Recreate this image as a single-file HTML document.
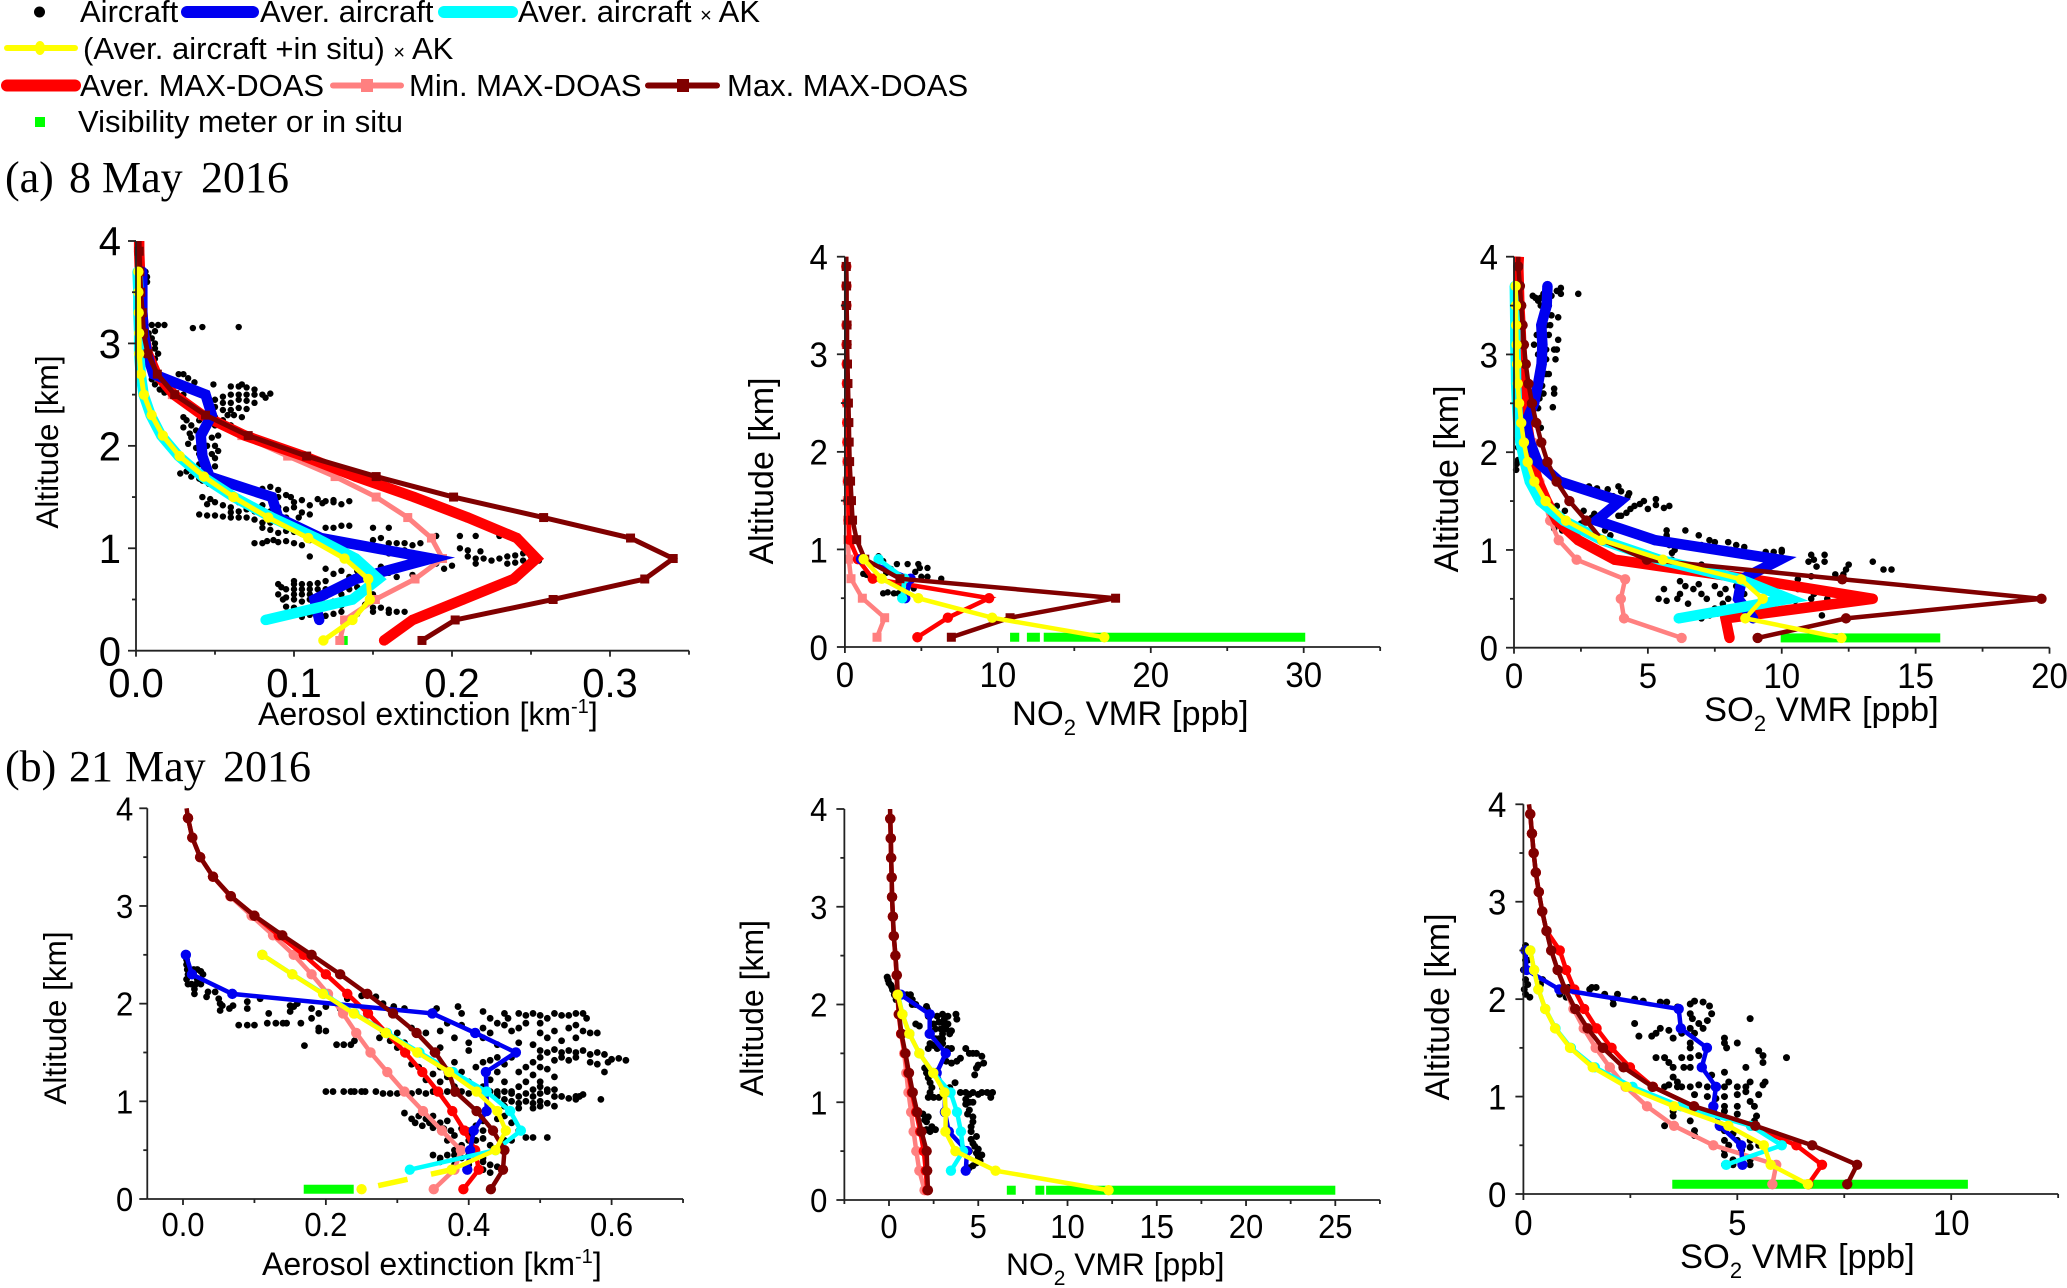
<!DOCTYPE html>
<html lang="en">
<head>
<meta charset="utf-8">
<title>Vertical profiles of aerosol extinction, NO2 and SO2</title>
<style>
html,body{margin:0;padding:0;background:#fff;width:2067px;height:1288px;overflow:hidden}
svg{display:block}
text{font-family:"Liberation Sans",Arial,sans-serif;fill:#000}
.serif{font-family:"Liberation Serif","Times New Roman",serif}
</style>
</head>
<body>
<svg id="figure" xmlns="http://www.w3.org/2000/svg" width="2067" height="1288" viewBox="0 0 2067 1288">
<rect width="2067" height="1288" fill="#fff"/>
<g id="legend" font-size="31">
  <g>
    <circle cx="39.5" cy="12" r="5.5" fill="#000"/>
    <text x="80" y="22">Aircraft</text>
  </g>
  <g>
    <line x1="187" y1="12" x2="253" y2="12" stroke="#0000f0" stroke-width="12" stroke-linecap="round"/>
    <text x="260" y="22">Aver. aircraft</text>
  </g>
  <g>
    <line x1="444" y1="12" x2="512" y2="12" stroke="#00ffff" stroke-width="12" stroke-linecap="round"/>
    <text x="518" y="22">Aver. aircraft <tspan font-size="20">×</tspan> AK</text>
  </g>
  <g>
    <line x1="7" y1="48" x2="75" y2="48" stroke="#ffff00" stroke-width="6" stroke-linecap="round"/>
    <ellipse cx="40" cy="48" rx="5" ry="7" fill="#ffff00"/>
    <text x="83" y="59">(Aver. aircraft +in situ) <tspan font-size="20">×</tspan> AK</text>
  </g>
  <g>
    <line x1="7" y1="85.5" x2="75" y2="85.5" stroke="#ff0000" stroke-width="12" stroke-linecap="round"/>
    <text x="80" y="96">Aver. MAX-DOAS</text>
  </g>
  <g>
    <line x1="333" y1="85.5" x2="401" y2="85.5" stroke="#ff8080" stroke-width="6" stroke-linecap="round"/>
    <rect x="361" y="79" width="12" height="13" fill="#ff8080"/>
    <text x="409" y="96">Min. MAX-DOAS</text>
  </g>
  <g>
    <line x1="648" y1="85.5" x2="717" y2="85.5" stroke="#800000" stroke-width="6" stroke-linecap="round"/>
    <rect x="677" y="79" width="12" height="13" fill="#800000"/>
    <text x="727" y="96">Max. MAX-DOAS</text>
  </g>
  <g>
    <rect x="35" y="117" width="10" height="10" fill="#00ff00"/>
    <text x="78" y="132">Visibility meter or in situ</text>
  </g>
</g>
<text class="serif" y="192" font-size="44"><tspan x="5">(a)</tspan><tspan x="69">8</tspan><tspan x="102">May</tspan><tspan x="201">2016</tspan></text>
<text class="serif" y="781" font-size="44"><tspan x="5">(b)</tspan><tspan x="69">21</tspan><tspan x="125">May</tspan><tspan x="223">2016</tspan></text>

<text font-size="31.5" text-anchor="middle" transform="translate(58,442) rotate(-90)">Altitude [km]</text>
<text font-size="32" x="258" y="725">Aerosol extinction [km<tspan font-size="20" dy="-12">-1</tspan><tspan dy="12">]</tspan></text>
<text font-size="34" text-anchor="middle" transform="translate(773,471) rotate(-90)">Altitude [km]</text>
<text font-size="34.5" x="1012" y="725">NO<tspan font-size="22" dy="10">2</tspan><tspan dy="-10"> VMR [ppb]</tspan></text>
<text font-size="34" text-anchor="middle" transform="translate(1458,479) rotate(-90)">Altitude [km]</text>
<text font-size="34.5" x="1704" y="721">SO<tspan font-size="22" dy="10">2</tspan><tspan dy="-10"> VMR [ppb]</tspan></text>
<text font-size="31.5" text-anchor="middle" transform="translate(66,1018) rotate(-90)">Altitude [km]</text>
<text font-size="32" x="262" y="1275">Aerosol extinction [km<tspan font-size="20" dy="-12">-1</tspan><tspan dy="12">]</tspan></text>
<text font-size="32" text-anchor="middle" transform="translate(763,1008) rotate(-90)">Altitude [km]</text>
<text font-size="31.8" x="1006" y="1275">NO<tspan font-size="21" dy="10">2</tspan><tspan dy="-10"> VMR [ppb]</tspan></text>
<text font-size="34" text-anchor="middle" transform="translate(1449,1007) rotate(-90)">Altitude [km]</text>
<text font-size="34.5" x="1680" y="1268">SO<tspan font-size="22" dy="10">2</tspan><tspan dy="-10"> VMR [ppb]</tspan></text>
</svg>
<script>
const altitudes=[.1,.3,.5,.7,.9,1.1,1.3,1.5,1.7,1.9,2.1,2.3,2.5,2.7,2.9,3.1,3.3,3.5,3.7,3.9,4];
const altitudeTickLabels=['0','1','2','3','4'];

const a1XTicks=['0.0','0.1','0.2','0.3'];
const a1Max=[.181,.202,.264,.322,.340,.313,.258,.201,.152,.108,.071,.044,.0245,.0135,.0076,.0048,.004,.003,.0025,.002,.002];
const a1Avg=[.157,.175,.207,.239,.2535,.241,.21,.176,.139,.106,.069,.042,.024,.013,.0075,.005,.004,.003,.0025,.002,.002];
const a1Min=[.129,.132,.1515,.1766,.194,.187,.172,.152,.126,.096,.067,.042,.023,.012,.007,.005,.004,.003,.002,.002];
const a1Blue=[null,.116,.113,.139,.187,.117,.09,.086,.0465,.042,.041,.048,.044,.011,.007,.005,.004,.004,.004];
const a1Cyan=[null,.082,.137,.1535,.139,.114,.086,.062,.042,.027,.016,.0093,.0048,.003,.002,.002,.0015,.0015,.001];
const a1Yellow=[.1186,.137,.148,.147,.132,.109,.0837,.0617,.043,.0276,.017,.0099,.005,.0031,.002,.002,.0017,.0015,.0015];
const a1Green=[[.130,.134]];
const a1Dots=[[.007,3.65],[.007,3.6],[.006,3.7],[.036,3.15],[.042,3.16],[.065,3.16],[.01,3.18],[.014,3.18],[.018,3.18],[.012,3.12],[.01,3.05],[.012,3],[.012,2.95],[.014,2.9],[.012,2.85],[.008,3.1],[.027,2.7],[.03,2.7],[.033,2.66],[.037,2.62],[.049,2.6],[.06,2.58],[.065,2.58],[.067,2.6],[.07,2.57],[.075,2.55],[.08,2.5],[.085,2.51],[.082,2.47],[.075,2.5],[.07,2.5],[.065,2.5],[.06,2.5],[.055,2.48],[.05,2.45],[.055,2.42],[.06,2.42],[.065,2.45],[.07,2.44],[.075,2.42],[.05,2.38],[.055,2.35],[.06,2.35],[.065,2.37],[.07,2.36],[.058,2.3],[.062,2.3],[.067,2.28],[.055,2.25],[.05,2.28],[.015,2.55],[.012,2.6],[.01,2.65],[.018,2.52],[.022,2.52],[.03,2.5],[.03,2.28],[.032,2.25],[.035,2.2],[.04,2.25],[.03,2.18],[.034,2.12],[.038,2.15],[.043,2.15],[.05,2.2],[.035,2.08],[.04,2.05],[.048,2.08],[.052,2.1],[.033,2.02],[.038,1.98],[.045,2],[.05,2],[.052,1.95],[.04,1.92],[.048,1.92],[.05,1.88],[.043,1.86],[.045,1.8],[.05,1.8],[.04,1.82],[.06,2.2],[.065,2.15],[.028,1.73],[.032,1.75],[.035,1.7],[.04,1.68],[.042,1.66],[.046,1.63],[.085,1.6],[.08,1.58],[.09,1.57],[.085,1.52],[.09,1.5],[.095,1.52],[.098,1.5],[.1,1.45],[.105,1.47],[.11,1.42],[.115,1.48],[.12,1.46],[.125,1.45],[.13,1.43],[.118,1.44],[.135,1.46],[.125,1.47],[.042,1.5],[.047,1.48],[.05,1.45],[.045,1.43],[.055,1.42],[.06,1.4],[.065,1.45],[.07,1.38],[.075,1.36],[.08,1.42],[.085,1.36],[.09,1.4],[.095,1.38],[.1,1.4],[.105,1.35],[.11,1.33],[.103,1.3],[.095,1.3],[.09,1.28],[.085,1.25],[.08,1.25],[.04,1.33],[.045,1.32],[.05,1.32],[.055,1.31],[.06,1.3],[.065,1.3],[.07,1.3],[.075,1.28],[.06,1.35],[.065,1.36],[.08,1.2],[.085,1.18],[.09,1.15],[.095,1.17],[.1,1.16],[.105,1.14],[.12,1.2],[.13,1.22],[.125,1.2],[.135,1.22],[.15,1.2],[.16,1.2],[.075,1.05],[.08,1.05],[.083,1.07],[.087,1.08],[.09,1.06],[.095,1.07],[.1,1.05],[.105,1.03],[.11,1.08],[.12,1.1],[.125,1.05],[.13,1.08],[.14,1.05],[.15,1.08],[.155,1.1],[.16,1.05],[.165,1.05],[.17,1.05],[.175,1.03],[.18,1.05],[.19,1.12],[.205,1.12],[.215,1.12],[.23,1.12],[.11,.92],[.125,.98],[.135,.95],[.15,1],[.16,.95],[.17,.98],[.205,1],[.21,.98],[.218,.97],[.21,.92],[.215,.9],[.22,.9],[.225,.88],[.23,.9],[.235,.92],[.24,.93],[.245,.95],[.25,.92],[.255,.88],[.245,.88],[.24,.86],[.235,.85],[.215,.85],[.2,.83],[.195,.8],[.19,.85],[.12,.8],[.13,.78],[.14,.78],[.155,.82],[.16,.76],[.165,.72],[.175,.74],[.155,.72],[.15,.7],[.135,.72],[.125,.75],[.12,.68],[.09,.65],[.092,.62],[.09,.55],[.093,.5],[.095,.6],[.095,.52],[.1,.68],[.1,.65],[.1,.6],[.1,.55],[.1,.5],[.105,.65],[.105,.6],[.105,.55],[.105,.48],[.11,.65],[.11,.6],[.11,.55],[.11,.5],[.115,.66],[.115,.6],[.115,.53],[.115,.46],[.12,.6],[.12,.53],[.12,.46],[.125,.6],[.125,.48],[.13,.62],[.13,.55],[.13,.44],[.135,.6],[.135,.5],[.14,.62],[.14,.55],[.145,.6],[.145,.45],[.15,.55],[.15,.42],[.155,.42],[.16,.4],[.165,.38],[.095,.43],[.1,.42],[.105,.33],[.11,.35],[.115,.33],[.12,.34],[.125,.36],[.13,.38],[.14,.36],[.15,.38],[.16,.37],[.17,.38]];

const a2XTicks=['0','10','20','30'];
const a2Max=[6.96,10.8,17.7,3.6,1.3,.77,.5,.43,.37,.31,.28,.26,.23,.2,.17,.14,.14,.11,.11,.09,.09];
const a2Avg=[4.74,6.73,9.43,1.82,.85,.3,.25,.22,.2,.18,.16,.15,.14,.13,.12,.11,.11,.1,.1,.09,.09];
const a2Min=[2.1,2.6,1.14,.4,.25,.2,.18,.16,.15,.14,.13,.12,.11,.1,.1,.09,.09,.08,.08,.08];
const a2Blue=[null,null,3.95,4.3,1.05];
const a2Cyan=[null,null,3.75,3.9,2.2];
const a2Yellow=[16.96,9.63,4.8,2.41,1.22];
const a2Green=[[10.8,11.4],[11.9,12.75],[13,30.1]];
const a2Dots=[[1.2,.75],[1.4,.74],[1.6,.73],[2.2,.93],[2.5,.88],[2.7,.8],[3,.8],[2.7,.76],[2.5,.55],[2.8,.56],[3.2,.55],[3.5,.55],[4,.55],[3.7,.62],[4.1,.85],[4.8,.85],[4.9,.81],[5.4,.81],[4.6,.77],[5.4,.72],[5,.72],[6.3,.7],[4.5,.6],[3.4,.85],[3.8,.68]];

const a3XTicks=['0','5','10','15','20'];
const a3Max=[9.1,12.4,19.7,12.26,4.96,3.29,2.7,2.07,1.59,1.25,1.02,.83,.67,.54,.44,.37,.32,.27,.22,.16,.16];
const a3Avg=[8.05,7.9,13.4,8.9,3.76,2.4,1.6,1.22,.9,.7,.6,.48,.4,.35,.3,.27,.24,.2,.18,.16,.18];
const a3Min=[6.26,4.11,3.99,4.15,2.34,1.67,1.35,1.14,.95,.83,.71,.59,.46,.37,.3,.27,.24,.2,.18,.16];
const a3Blue=[null,8.93,8.37,8.5,9.93,5.27,3.08,3.96,1.7,.88,.6,.43,.75,.9,1.03,1.06,1.02,1.22,1.25];
const a3Cyan=[null,6.15,10.28,8.45,5.43,3.29,1.86,.98,.59,.4,.24,.16,.11,.08,.07,.05,.05,.04,.03];
const a3Yellow=[12.23,8.64,9.29,8.48,5.56,3.29,1.94,1.18,.76,.51,.37,.27,.19,.14,.11,.095,.08,.07,.06];
const a3Green=[[9.96,15.92]];
const a3Dots=[[.7,3.6],[.9,3.55],[1.2,3.63],[1.4,3.6],[1.6,3.65],[1.75,3.62],[2.4,3.62],[1.75,3.68],[.8,3.58],[1,3.58],[1.1,3.62],[1,3.5],[1.3,3.5],[1.4,3.4],[1.65,3.38],[1,3.35],[1.2,3.3],[1.35,3.3],[.85,3.2],[1,3.2],[1.3,3.2],[1.65,3.15],[.75,3.1],[1,3.1],[1.2,3.05],[1.5,3.05],[1.6,3.05],[.9,3],[1.2,2.95],[1.55,2.95],[1,2.85],[1.2,2.8],[1.3,2.8],[.9,2.75],[.95,2.65],[1.05,2.68],[1.5,2.65],[1.5,2.6],[.95,2.55],[1.1,2.6],[1.45,2.46],[.9,2.45],[.15,2.2],[.1,2.15],[.15,2.05],[.08,1.82],[.1,1.88],[.15,1.92],[1,2.25],[.9,2.3],[.5,2],[2.8,1.65],[3.1,1.63],[3.5,1.62],[3.9,1.65],[4,1.6],[4.3,1.58],[4.25,1.55],[3.7,1.55],[4.85,1.5],[4.7,1.47],[4.5,1.45],[4.35,1.42],[4.2,1.38],[5.3,1.52],[5.3,1.46],[5.8,1.45],[5.6,1.43],[5,1.42],[4,1.35],[3.9,1.35],[3,1.3],[3,1.37],[2.9,1.33],[2.5,1.27],[2.6,1.4],[1.6,1.45],[1.9,1.4],[1.6,1.3],[1.8,1.2],[1.5,1.22],[2,1.25],[3.4,1.2],[3.6,1.15],[4.6,1.18],[5.7,1.2],[5.7,1.15],[5.7,1.13],[6.4,1.2],[6.9,1.15],[7.3,1.1],[7.5,1.08],[8,1.08],[8.3,1.05],[5.8,1.05],[6.2,1.05],[6.6,1.03],[7,1.05],[7.4,1],[6,1],[5.9,.97],[8.6,1.03],[8.1,1],[9.7,.98],[10,.98],[10,1],[9.4,.98],[5.9,.9],[11.1,.95],[11.2,.9],[11.6,.95],[11.6,.88],[11,.88],[11.3,.83],[12.5,.85],[12.4,.8],[13.4,.88],[13.8,.8],[14.1,.8],[12,.75],[12.3,.75],[11.1,.73],[10.6,.7],[7,.85],[7.5,.78],[5.6,.6],[6.2,.68],[6.4,.63],[6.7,.6],[6.9,.65],[6.2,.55],[6.1,.5],[5.4,.5],[5.7,.48],[6.5,.45],[7,.55],[7.2,.5],[7.5,.63],[7.7,.55],[7.8,.45],[8,.5],[7.5,.4],[7.7,.38],[8.1,.4],[8.5,.45],[8.9,.38],[7.9,.3],[7.6,.35],[7.3,.33],[7,.3],[10.6,.6],[11,.6],[11.2,.55],[11.5,.6],[11.7,.5],[11.1,.5],[11.3,.43],[11.5,.33],[10.5,.48],[12,.55],[7.9,.6],[8.3,.63],[8.6,.55]];

const b1XTicks=['0.0','0.2','0.4','0.6'];
const b1Max=[.431,.448,.45,.434,.411,.381,.372,.353,.327,.294,.258,.22,.18,.139,.1,.067,.042,.024,.013,.007,.005];
const b1Avg=[.3925,.414,.409,.394,.377,.357,.335,.311,.285,.259,.23,.2,.169,.134,.1,.067,.042,.024,.013,.007];
const b1Min=[.351,.38,.389,.3625,.336,.31,.286,.2625,.2425,.224,.203,.18,.155,.126,.096,.066,.042,.024,.013,.007];
const b1Blue=[null,.398,.402,.407,.425,.425,.424,.466,.409,.349,.069,.0125,.004];
const b1Cyan=[null,.3175,.4375,.473,.458,.425,.378,.331,.2856,.24,.197,.153,.111];
const b1Yellow=[.25,.376,.4375,.452,.44,.411,.3725,.328,.284,.239,.196,.153,.111];
const b1Green=[[.169,.239]];
const b1Dots=[[.005,2.45],[.005,2.4],[.006,2.35],[.007,2.3],[.005,2.25],[.007,2.2],[.012,2.2],[.015,2.35],[.02,2.35],[.025,2.33],[.028,2.3],[.02,2.25],[.018,2.2],[.016,2.15],[.016,2.1],[.025,2.2],[.035,2.12],[.033,2.07],[.045,2.12],[.05,2.05],[.052,2],[.055,1.98],[.065,1.95],[.052,1.93],[.07,1.98],[.09,1.95],[.108,2.05],[.09,2.02],[.12,1.9],[.15,1.92],[.15,1.98],[.155,1.97],[.16,2],[.18,1.95],[.19,1.9],[.2,1.97],[.22,1.95],[.23,2.05],[.25,2.08],[.27,2.07],[.28,2],[.295,1.97],[.31,1.95],[.078,1.78],[.09,1.78],[.1,1.78],[.118,1.8],[.13,1.8],[.14,1.8],[.145,1.8],[.165,1.8],[.18,1.85],[.19,1.72],[.2,1.72],[.19,1.75],[.17,1.57],[.215,1.58],[.225,1.58],[.235,1.58],[.24,1.62],[.275,1.65],[.29,1.62],[.3,1.55],[.31,1.6],[.35,1.92],[.355,1.95],[.385,1.97],[.39,1.9],[.42,1.92],[.43,1.85],[.45,1.9],[.455,1.85],[.47,1.9],[.48,1.88],[.49,1.9],[.5,1.88],[.51,1.85],[.52,1.9],[.53,1.88],[.54,1.88],[.55,1.9],[.56,1.9],[.565,1.85],[.5,1.8],[.48,1.8],[.45,1.78],[.44,1.8],[.42,1.75],[.39,1.78],[.37,1.8],[.36,1.72],[.34,1.7],[.32,1.75],[.3,1.7],[.28,1.72],[.38,1.65],[.4,1.6],[.42,1.65],[.43,1.7],[.46,1.72],[.47,1.75],[.5,1.7],[.52,1.72],[.54,1.75],[.55,1.78],[.56,1.72],[.57,1.7],[.58,1.7],[.51,1.65],[.53,1.62],[.55,1.65],[.47,1.6],[.49,1.58],[.44,1.58],[.4,1.52],[.36,1.55],[.35,1.5],[.5,1.52],[.51,1.5],[.52,1.53],[.53,1.5],[.54,1.52],[.55,1.5],[.56,1.52],[.57,1.48],[.58,1.5],[.59,1.48],[.6,1.43],[.61,1.44],[.62,1.42],[.595,1.4],[.58,1.38],[.57,1.4],[.59,1.3],[.53,1.45],[.54,1.42],[.55,1.45],[.5,1.45],[.52,1.42],[.49,1.4],[.48,1.35],[.5,1.35],[.46,1.45],[.44,1.45],[.43,1.42],[.42,1.4],[.41,1.35],[.45,1.38],[.44,1.3],[.47,1.3],[.49,1.27],[.51,1.33],[.52,1.25],[.5,1.2],[.48,1.2],[.47,1.15],[.49,1.12],[.5,1.15],[.51,1.12],[.52,1.12],[.46,1.1],[.44,1.1],[.42,1.15],[.45,1.2],[.43,1.22],[.38,1.4],[.36,1.35],[.39,1.3],[.35,1.28],[.37,1.25],[.33,1.35],[.32,1.38],[.34,1.22],[.36,1.2],[.38,1.15],[.4,1.2],[.2,1.1],[.21,1.1],[.225,1.1],[.235,1.1],[.24,1.1],[.25,1.1],[.255,1.1],[.27,1.1],[.28,1.08],[.29,1.08],[.3,1.08],[.31,1.1],[.32,1.08],[.33,1.1],[.34,1.08],[.35,1.1],[.36,1.08],[.37,1.1],[.38,1.08],[.39,1.1],[.4,1.08],[.42,1.08],[.43,1.1],[.44,1.08],[.45,1.1],[.46,1.08],[.47,1.05],[.48,1.08],[.49,1.05],[.5,1.08],[.51,1.1],[.52,1.05],[.53,1.05],[.54,1.03],[.55,1.05],[.56,1.07],[.555,1.05],[.55,1.02],[.585,1.02],[.44,1.05],[.45,1.02],[.46,1],[.47,.98],[.48,1],[.49,.98],[.5,1],[.51,.98],[.5,.95],[.49,.93],[.52,.95],[.47,.93],[.45,.95],[.31,.88],[.32,.82],[.325,.78],[.33,.85],[.335,.75],[.34,.82],[.345,.78],[.35,.73],[.35,.85],[.36,.78],[.365,.72],[.37,.8],[.375,.7],[.38,.65],[.39,.72],[.4,.7],[.41,.75],[.42,.8],[.42,.7],[.44,.82],[.45,.85],[.46,.78],[.47,.7],[.35,.45],[.36,.42],[.37,.45],[.38,.45],[.39,.42],[.4,.45],[.41,.43],[.42,.42],[.36,.38],[.38,.35],[.4,.35],[.42,.38],[.43,.35],[.44,.33],[.42,.3],[.43,.27],[.38,.5],[.39,.55],[.4,.6],[.41,.6],[.42,.62],[.43,.55],[.44,.5],[.45,.6],[.46,.6],[.48,.63],[.49,.63],[.51,.63],[.4,.65],[.37,.6]];

const b2XTicks=['0','5','10','15','20','25'];
const b2Max=[2.18,2.14,2.11,1.82,1.58,1.33,1.12,.92,.7,.56,.49,.44,.36,.27,.22,.17,.15,.12,.1,.07,.06];
const b2Avg=[2.14,2.06,1.95,1.75,1.52,1.28,1.08,.9,.68,.55,.48,.43,.36,.27,.22,.17,.15,.12,.1,.07];
const b2Min=[1.99,1.7,1.53,1.38,1.24,1.09,.97,.85,.68,.54,.47,.42,.35,.26,.21,.17,.15,.12,.1,.07];
const b2Blue=[null,4.3,4.37,3.35,3.13,3.13,2.67,3.18,2.28,2.28,.66];
const b2Cyan=[null,3.47,4.15,4.03,3.81,3.45,2.48,1.7,1.14,.75,.51];
const b2Yellow=[12.3,5.97,3.72,3.16,3.18,3.11,2.48,1.7,1.14,.75,.49];
const b2Green=[[6.6,7.1],[8.2,8.7],[8.8,25]];
const b2Dots=[[-.1,2.28],[-.05,2.25],[0,2.22],[.1,2.2],[.15,2.18],[.2,2.15],[.3,2.1],[.4,2.05],[1,2.1],[1.2,2.1],[1.3,2.05],[1.3,2],[1.5,2],[2.1,1.98],[2.15,1.95],[2.2,1.88],[2.7,1.88],[3,1.9],[3.3,1.88],[3.75,1.9],[3.8,1.85],[3.1,1.85],[2.8,1.82],[2.5,1.8],[3.1,1.8],[3.3,1.8],[1.5,1.8],[1.7,1.78],[2.6,1.75],[2.9,1.75],[3.2,1.75],[3.5,1.73],[3.4,1.7],[3,1.7],[2.6,1.65],[2.8,1.65],[3,1.65],[2.3,1.6],[2.2,1.55],[2.5,1.58],[2.7,1.55],[3,1.6],[3.3,1.55],[3.5,1.55],[4.3,1.55],[4.5,1.5],[4.7,1.5],[4.9,1.5],[5.2,1.47],[5.3,1.4],[5,1.38],[4.9,1.35],[4.8,1.28],[4,1.45],[3.8,1.42],[3.5,1.4],[3.2,1.42],[2,1.35],[2.1,1.3],[2.2,1.25],[2.3,1.2],[2.4,1.15],[2.3,1.1],[2.2,1.05],[2.5,1.05],[2.8,1.05],[3,1.15],[3.4,1.15],[3.7,1.2],[3.5,1.1],[4,1.1],[4.3,1.1],[4.5,1.08],[4.7,1.1],[5,1.08],[5.2,1.1],[5.5,1.1],[5.8,1.1],[5.7,1.05],[4.3,1.03],[4.5,1],[4.7,1],[4.3,.98],[4.5,.92],[4.4,.88],[4.7,.85],[4.7,.8],[4.6,.75],[4.6,.7],[1.9,.88],[2,.82],[2.1,.8],[2.2,.85],[2.4,.75],[2.1,.72],[2.3,.7],[2.6,.72],[4.6,.62],[4.7,.58],[4.8,.55],[5,.52],[4.9,.48],[5.2,.46],[5,.42],[5.1,.4],[4.9,.38],[4.7,.35],[4.5,.33],[5,.45],[4.5,.5],[4.9,.65]];

const b3XTicks=['0','5','10'];
const b3Max=[7.57,7.8,6.75,5.42,3.99,3.02,2.34,1.86,1.5,1.21,.98,.8,.65,.54,.44,.36,.29,.24,.2,.16,.13];
const b3Avg=[6.66,6.98,6.38,5.32,3.98,3.03,2.49,2.06,1.71,1.42,1.19,1,.85,.54,.44,.36,.29,.24,.2,.16];
const b3Min=[5.82,5.91,4.44,3.52,2.89,2.39,2.02,1.69,1.41,1.17,.98,.8,.65,.54,.44,.36,.29,.24,.2,.16];
const b3Blue=[null,5.12,5.09,4.59,4.44,4.5,4.17,4.29,3.68,3.63,.84,.07,.05];
const b3Cyan=[null,4.74,6.04,5.32,3.68,2.55,1.67,1.11,.75,.51,.35,.25,.16];
const b3Yellow=[6.65,5.78,5.62,4.79,3.52,2.41,1.62,1.09,.74,.51,.35,.25,.16];
const b3Green=[[3.48,10.39]];
const b3Dots=[[.02,2.5],[.05,2.55],[.1,2.5],[.05,2.4],[.1,2.4],[0,2.3],[.05,2.2],[.02,2.1],[.05,2.05],[.1,2.15],[.15,2.02],[.45,2.2],[.4,2.15],[.85,2.05],[.9,2.08],[1,2.02],[1.05,2.12],[1.55,2.1],[1.6,2.12],[1.7,2.12],[1.9,2.05],[2.1,2],[2.1,1.95],[2.2,2.05],[2.6,2],[2.8,1.98],[3.2,1.97],[3.35,1.97],[3.6,1.92],[3.9,1.95],[4,1.98],[4.2,1.97],[3.9,1.85],[4.35,1.93],[4.4,1.85],[3.95,1.8],[4.1,1.75],[4.3,1.78],[5.3,1.8],[2.6,1.75],[2.7,1.62],[3,1.62],[3.1,1.65],[3.2,1.7],[3.4,1.68],[3.5,1.6],[3.7,1.65],[3.9,1.7],[4,1.65],[4.2,1.7],[3.9,1.55],[3.9,1.5],[4.7,1.6],[4.7,1.55],[5,1.55],[4.75,1.5],[5.5,1.47],[5.6,1.42],[6.15,1.4],[5.6,1.35],[3.1,1.4],[3.3,1.4],[3.4,1.35],[3.7,1.4],[3.9,1.4],[4.1,1.42],[3.75,1.3],[3.5,1.3],[3.9,1.3],[5.2,1.3],[3.5,1.2],[3.6,1.15],[3.4,1.12],[3.6,1.1],[3.7,1.1],[3.9,1.1],[4.1,1.12],[4.3,1.1],[4.5,1.1],[4.7,1.1],[5,1.1],[5.2,1.1],[5.6,1.12],[5.65,1.15],[5.3,1.15],[4.4,1.22],[4.7,1.25],[4.8,1.15],[3.3,1.1],[4,1.02],[4.3,1],[4.5,.98],[4.7,1],[5,1.02],[5.2,1.05],[5.5,1.02],[5.3,.95],[5,.9],[4.7,.9],[5.4,.9],[4.7,.85],[5,.82],[5.45,.8],[5.4,.75],[3.5,.85],[3.5,.8],[3.9,.75],[3.3,.7],[4,.65],[4,.6],[4.6,.68],[4.7,.65],[4.9,.62],[4.7,.55],[4.8,.5],[5,.55],[5.3,.55],[5.5,.5],[5.3,.48],[4.7,.45],[4.7,.4],[5.1,.45],[4.9,.35],[5.3,.35],[5.3,.3],[4.9,.3],[4.7,.3]];

const panels=[
 {id:'a-aerosol',px:[136,610],val:[0,.3],xEnd:.35,py:[650.7,241],ticks:a1XTicks,minor:.05,font:40,tall:1.02,xBase:697,yGap:15,thick:10.5,thin:5,sq:true,dotR:3.2,max:a1Max,avg:a1Avg,min:a1Min,blue:a1Blue,cyan:a1Cyan,yellow:a1Yellow,green:a1Green,dots:a1Dots},
 {id:'a-no2',px:[844.9,1303.7],val:[0,30],xEnd:35,py:[647,256.7],ticks:a2XTicks,minor:5,font:33,tall:1.08,xBase:687,yGap:17,thick:4.5,thin:4.5,sq:true,dotR:3.2,max:a2Max,avg:a2Avg,min:a2Min,blue:a2Blue,cyan:a2Cyan,yellow:a2Yellow,green:a2Green,dots:a2Dots},
 {id:'a-so2',px:[1514,2049.5],val:[0,20],xEnd:20,py:[647.7,256.7],ticks:a3XTicks,minor:2.5,font:33,tall:1.08,xBase:688,yGap:16,thick:10.5,thin:4.5,sq:false,dotR:3.3,max:a3Max,avg:a3Avg,min:a3Min,blue:a3Blue,cyan:a3Cyan,yellow:a3Yellow,green:a3Green,dots:a3Dots},
 {id:'b-aerosol',px:[183,611.6],val:[0,.6],xStart:-.05,xEnd:.7,py:[1199,808.3],ticks:b1XTicks,minor:.1,font:31,tall:1.08,xBase:1236,yGap:14,thick:4.5,thin:4.5,sq:false,dashFirst:true,dotR:3.4,max:b1Max,avg:b1Avg,min:b1Min,blue:b1Blue,cyan:b1Cyan,yellow:b1Yellow,green:b1Green,dots:b1Dots},
 {id:'b-no2',px:[889,1335.3],val:[0,25],xStart:-2.5,xEnd:27.5,py:[1200,809],ticks:b2XTicks,minor:2.5,font:31,tall:1.08,xBase:1238,yGap:17,thick:4.5,thin:4.5,sq:false,dotR:3.5,max:b2Max,avg:b2Avg,min:b2Min,blue:b2Blue,cyan:b2Cyan,yellow:b2Yellow,green:b2Green,dots:b2Dots},
 {id:'b-so2',px:[1523.4,1951.2],val:[0,10],xEnd:12.5,py:[1194,804.3],ticks:b3XTicks,minor:2.5,font:33,tall:1.08,xBase:1235,yGap:17,thick:4.5,thin:4.5,sq:false,dotR:3.5,max:b3Max,avg:b3Avg,min:b3Min,blue:b3Blue,cyan:b3Cyan,yellow:b3Yellow,green:b3Green,dots:b3Dots}
];

const NS='http://www.w3.org/2000/svg';
const root=document.getElementById('figure');
function mk(tag,attrs,parent){
  const el=document.createElementNS(NS,tag);
  for(const k in attrs){el.setAttribute(k,attrs[k]);}
  parent.appendChild(el);
  return el;
}
function drawPanel(p){
  const sx=v=>p.px[0]+(v-p.val[0])/(p.val[1]-p.val[0])*(p.px[1]-p.px[0]);
  const sy=a=>p.py[0]+a/4*(p.py[1]-p.py[0]);
  const xStart=p.xStart===undefined?p.val[0]:p.xStart;
  const g=mk('g',{},root);
  
  

  const dotsG=mk('g',{fill:'#000'},g);
  
  
  p.dots.forEach(d=>{
    const c=mk('ellipse',{cx:sx(d[0]),cy:sy(d[1]),rx:p.dotR,ry:p.dotR},dotsG);
    
    
  });

  const greenG=mk('g',{fill:'#00ff00'},g);
  
  
  p.green.forEach(r=>{
    const b=mk('rect',{x:sx(r[0]),y:sy(.1)-4.5,width:sx(r[1])-sx(r[0]),height:9},greenG);
    
    
  });

  function drawSeries(values,name,color,width,radius,square,dashFirst){
    const sg=mk('g',{},g);
    
    
    const pts=[];
    values.forEach((v,i)=>{if(v!==null&&v!==undefined){pts.push([sx(v),sy(altitudes[i]),altitudes[i]]);}});
    const start=dashFirst?1:0;
    const line=mk('polyline',{points:pts.slice(start).map(q=>q[0]+','+q[1]).join(' '),fill:'none',stroke:color,'stroke-width':width,'stroke-linejoin':'miter','stroke-miterlimit':6},sg);
    
    
    if(dashFirst){
      const dash=mk('line',{x1:pts[0][0],y1:pts[0][1],x2:pts[1][0],y2:pts[1][1],stroke:color,'stroke-width':width+1,'stroke-dasharray':'0 17 30 24 52 100'},sg);
      
      
    }
    pts.forEach(q=>{
      if(q[2]>=4){return;}
      let m;
      if(square){
        m=mk('rect',{x:q[0]-radius,y:q[1]-radius,width:radius*2,height:radius*2,fill:color},sg);
      }else{
        m=mk('circle',{cx:q[0],cy:q[1],r:radius,fill:color},sg);
      }
      
      
    });
  }
  drawSeries(p.min,'min-max-doas','#ff8080',p.thin,p.sq?4.5:5.2,p.sq);
  drawSeries(p.avg,'average-max-doas','#ff0000',p.thick,5.2,false);
  drawSeries(p.blue,'average-aircraft','#0000f0',p.thick,5.2,false);
  drawSeries(p.cyan,'average-aircraft-ak','#00ffff',p.thick,5.2,false);
  drawSeries(p.max,'max-max-doas','#800000',p.thin,p.sq?4.5:5.2,p.sq);
  drawSeries(p.yellow,'average-aircraft-in-situ-ak','#ffff00',p.thin,5.2,false,p.dashFirst);

  const axis=mk('g',{stroke:'#222','stroke-width':1.8},g);
  
  
  const xAxisLine=mk('line',{x1:sx(xStart),y1:p.py[0],x2:sx(p.xEnd),y2:p.py[0]},axis);
  
  
  const yAxisLine=mk('line',{x1:sx(xStart),y1:p.py[0],x2:sx(xStart),y2:p.py[1]},axis);
  
  

  const first=Math.ceil((xStart-1e-6)/p.minor),last=Math.floor((p.xEnd+1e-6)/p.minor);
  for(let i=first;i<=last;i++){
    const v=i*p.minor;
    const isMajor=p.ticks.some(t=>Math.abs(parseFloat(t)-v)<1e-6);
    const t=mk('line',{x1:sx(v),y1:p.py[0],x2:sx(v),y2:p.py[0]+(isMajor?6:4)},axis);
    
    
  }
  for(let i=0;i<=8;i++){
    const a=i/2;
    const major=i%2===0;
    const t=mk('line',{x1:sx(xStart),y1:sy(a),x2:sx(xStart)-(major?8:4),y2:sy(a)},axis);
    
    
  }
  p.ticks.forEach(label=>{
    const t=mk('text',{transform:'translate('+sx(parseFloat(label))+','+p.xBase+') scale(1,'+p.tall+')','text-anchor':'middle','font-size':p.font},g);
    t.textContent=label;
    
    
  });
  altitudeTickLabels.forEach(label=>{
    const t=mk('text',{transform:'translate('+(sx(xStart)-p.yGap)+','+(sy(parseFloat(label))+p.font*.36*p.tall)+') scale(1,'+p.tall+')','text-anchor':'end','font-size':p.font},g);
    t.textContent=label;
    
    
  });
}
panels.forEach(drawPanel);
</script>
</body>
</html>
